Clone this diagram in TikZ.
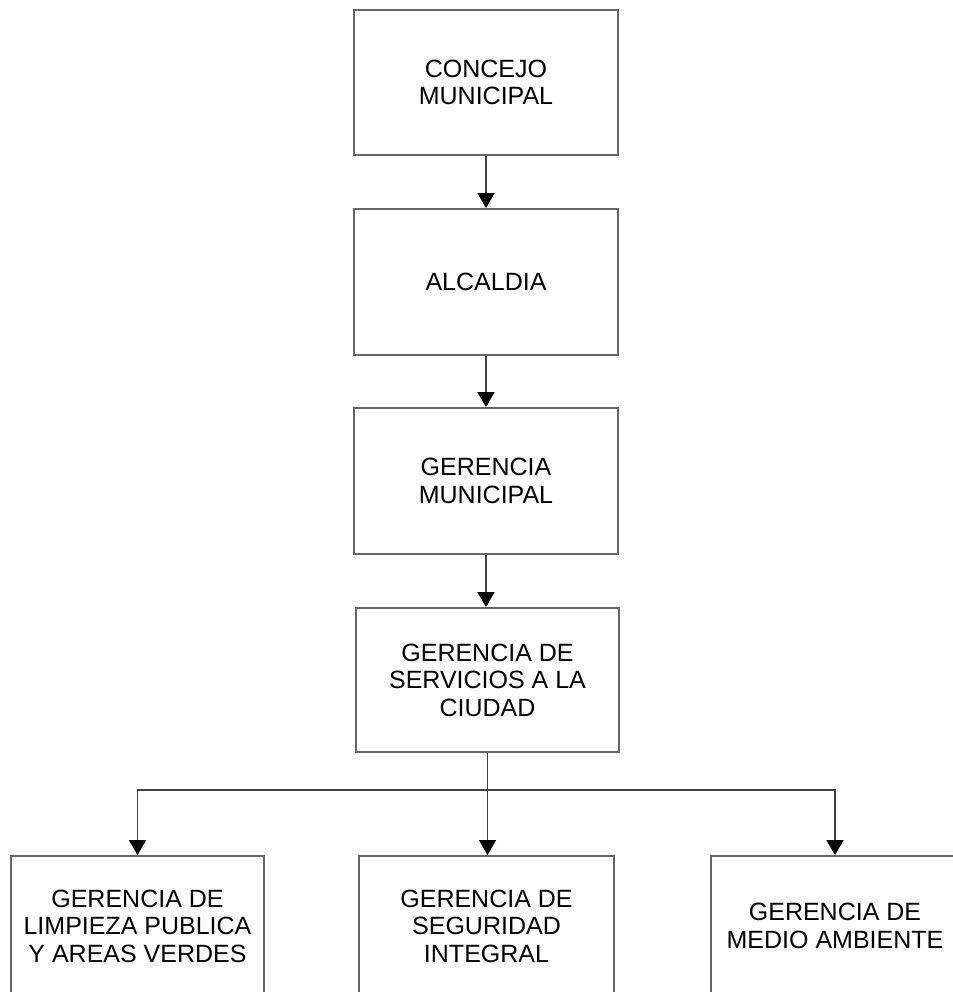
\documentclass[tikz,border=0pt]{standalone}
\usepackage{fontspec}
\setmainfont{Liberation Sans}
\usetikzlibrary{arrows.meta}
\begin{document}
\begin{tikzpicture}[x=1pt,y=-1pt,
  box/.style={draw=black!60,line width=1.8pt,fill=white,rectangle,inner sep=0pt,align=center,
    font=\fontsize{25}{27.5}\selectfont},
  conn/.style={draw=black!75,line width=1.1pt},
  arr/.style={conn,-{Triangle[width=17pt,length=15pt,color=black]}}]
\useasboundingbox (0,0) rectangle (952,992);
\node[box,minimum width=264pt,minimum height=145pt] (b1) at (486,82.5) {CONCEJO\\MUNICIPAL};
\node[box,minimum width=264pt,minimum height=146pt] (b2) at (486,282) {ALCALDIA};
\node[box,minimum width=264pt,minimum height=146pt] (b3) at (486,481) {GERENCIA\\MUNICIPAL};
\node[box,minimum width=263pt,minimum height=144pt] (b4) at (487.5,680) {GERENCIA DE\\SERVICIOS A LA\\CIUDAD};
\node[box,minimum width=253pt,minimum height=140pt] (l) at (137.5,926) {GERENCIA DE\\LIMPIEZA PUBLICA\\Y AREAS VERDES};
\node[box,minimum width=255pt,minimum height=140pt] (m) at (486.5,926) {GERENCIA DE\\SEGURIDAD\\INTEGRAL};
\node[box,minimum width=248pt,minimum height=140pt] (r) at (835,926) {GERENCIA DE\\MEDIO AMBIENTE};
\coordinate (j) at (b4.south |- 0,790);
\draw[arr] (b1.south) -- (b2.north);
\draw[arr] (b2.south) -- (b3.north);
\draw[arr] (b3.south) -- (b3.south |- b4.north);
\draw[conn] (b4.south) -- (j);
\draw[arr] (j) -| (l.north);
\draw[arr] (j) -- (j |- m.north);
\draw[arr] (j) -| (r.north);
\end{tikzpicture}
\end{document}
